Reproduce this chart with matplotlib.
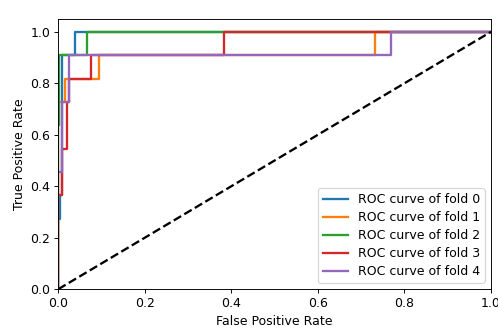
import matplotlib
matplotlib.use("Agg")
import matplotlib.pyplot as plt

# ROC steps, one fold per list
fpr_fold0 = [0, 0, 0.003, 0.003, 0.009, 0.009, 0.039, 0.039, 1]
tpr_fold0 = [0, 0.273, 0.273, 0.364, 0.364, 0.909, 0.909, 1, 1]

fpr_fold1 = [0, 0, 0.015, 0.015, 0.094, 0.094, 0.733, 0.733, 1]
tpr_fold1 = [0, 0.727, 0.727, 0.818, 0.818, 0.909, 0.909, 1, 1]

fpr_fold2 = [0, 0, 0.002, 0.002, 0.066, 0.066, 1]
tpr_fold2 = [0, 0.636, 0.636, 0.909, 0.909, 1, 1]

fpr_fold3 = [0, 0, 0.009, 0.009, 0.02, 0.02, 0.025, 0.025, 0.076, 0.076, 0.383, 0.383, 1]
tpr_fold3 = [0, 0.364, 0.364, 0.545, 0.545, 0.727, 0.727, 0.818, 0.818, 0.909, 0.909, 1, 1]

fpr_fold4 = [0, 0, 0.009, 0.009, 0.024, 0.024, 0.768, 0.768, 1]
tpr_fold4 = [0, 0.455, 0.455, 0.727, 0.727, 0.909, 0.909, 1, 1]

folds = [
    (fpr_fold0, tpr_fold0),
    (fpr_fold1, tpr_fold1),
    (fpr_fold2, tpr_fold2),
    (fpr_fold3, tpr_fold3),
    (fpr_fold4, tpr_fold4),
]

plt.rcParams["font.size"] = 10.8

fig = plt.figure(figsize=(6, 4), dpi=83)
fig.subplots_adjust(left=0.117, right=0.986, top=0.943, bottom=0.129)

for i, (fpr, tpr) in enumerate(folds):
    plt.plot(fpr, tpr, lw=2, label="ROC curve of fold {}".format(i))

plt.plot([0, 1], [0, 1], "k--", lw=2)
plt.xlim([0.0, 1.0])
plt.ylim([0.0, 1.05])
plt.xlabel("False Positive Rate")
plt.ylabel("True Positive Rate")
plt.legend(loc="lower right", labelspacing=0.4)

plt.savefig("out.png")
